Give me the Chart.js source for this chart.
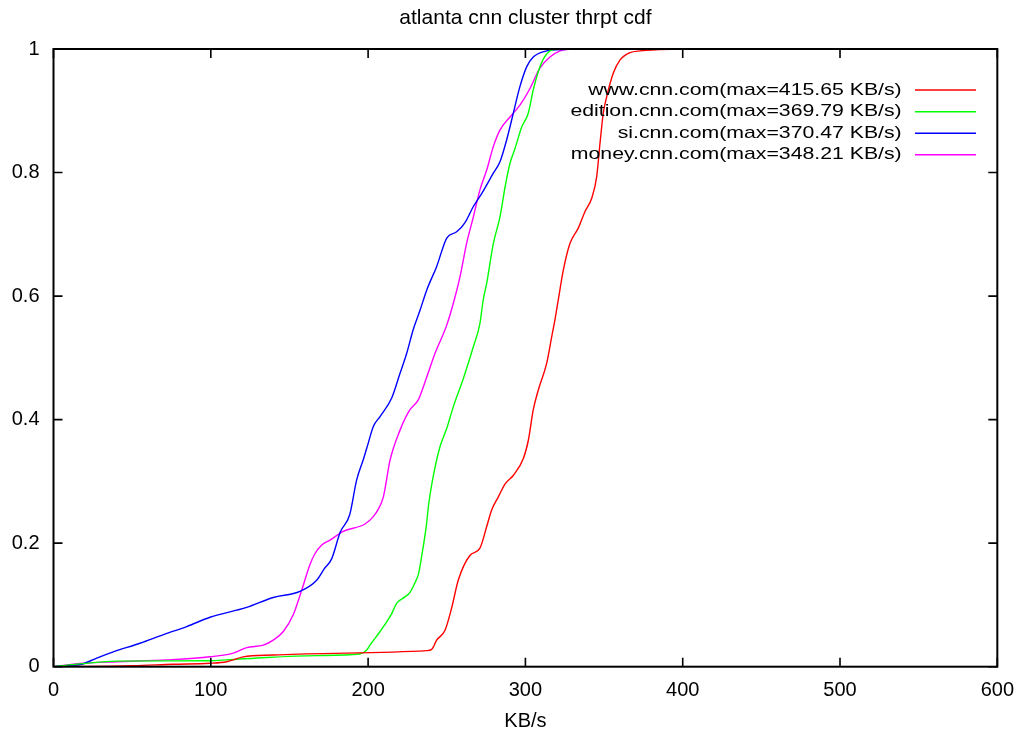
<!DOCTYPE html>
<html>
<head>
<meta charset="utf-8">
<script src="https://cdn.jsdelivr.net/npm/chart.js@4"></script>
<style>
  body { margin: 0; background: #fff; }
  #wrap { width: 1026px; height: 736px; }
</style>
</head>
<body>
<div id="wrap"><canvas id="mycanvas" width="1026" height="736"></canvas></div>
<script>
var chartTitle = 'atlanta cnn cluster thrpt cdf';
var xTitle = 'KB/s';
var xTicks = [0, 100, 200, 300, 400, 500, 600];
var xTickLabels = ['0', '100', '200', '300', '400', '500', '600'];
var yTicks = [0, 0.2, 0.4, 0.6, 0.8, 1];
var yTickLabels = ['0', '0.2', '0.4', '0.6', '0.8', '1'];

var seriesNames = [
	'www.cnn.com(max=415.65 KB/s)',
	'edition.cnn.com(max=369.79 KB/s)',
	'si.cnn.com(max=370.47 KB/s)',
	'money.cnn.com(max=348.21 KB/s)'
];
var seriesColors = ['#ff0000', '#00ff00', '#0000ff', '#ff00ff'];

// www.cnn.com
var wwwX = [0, 50.7, 76.2, 99.5, 110.1, 120.5, 139.7, 177.9, 237.2, 240.4, 243.6, 248.9, 253.1, 257.3, 264.7, 271.1, 275.4, 278.6, 282.8, 287.1, 292.4, 298.7, 301.9, 305, 308.2, 313.5, 316.7, 318.8, 320.9, 324.1, 328.3, 333.6, 337.9, 342.1, 345.3, 347.4, 349.5, 351.7, 355.9, 360.1, 366.5, 372.9, 385, 400, 415.65];
var wwwY = [0, 0.0016, 0.004, 0.0055, 0.008, 0.016, 0.019, 0.0216, 0.026, 0.028, 0.043, 0.059, 0.095, 0.140, 0.180, 0.192, 0.227, 0.254, 0.275, 0.296, 0.310, 0.337, 0.367, 0.416, 0.448, 0.491, 0.534, 0.562, 0.594, 0.642, 0.685, 0.710, 0.737, 0.758, 0.793, 0.847, 0.896, 0.923, 0.961, 0.982, 0.994, 0.997, 0.999, 1, 1];

// edition.cnn.com
var editionX = [0, 19, 40, 99.5, 110, 135.5, 167.3, 194.9, 199.1, 201.2, 207.6, 215, 218.2, 223.4, 226.5, 229.8, 232, 234, 237.2, 238.3, 241.4, 245.7, 250, 254.2, 260.6, 266.9, 271.1, 273.2, 275.4, 279.6, 283.9, 287.1, 290.2, 293.4, 297.7, 301.8, 305, 309.2, 313.5, 317.7, 325, 369.79];
var editionY = [0, 0.005, 0.009, 0.0097, 0.011, 0.015, 0.018, 0.0206, 0.027, 0.035, 0.057, 0.086, 0.103, 0.113, 0.12, 0.136, 0.15, 0.178, 0.232, 0.259, 0.308, 0.356, 0.386, 0.421, 0.467, 0.518, 0.556, 0.594, 0.621, 0.685, 0.729, 0.777, 0.815, 0.839, 0.874, 0.896, 0.934, 0.971, 0.992, 0.999, 1, 1];

// si.cnn.com
var siX = [0, 10, 18, 27.5, 38, 55, 70, 84.7, 99.5, 122.8, 139.7, 156.7, 167.3, 172, 176.9, 182.3, 188.3, 192.7, 196.9, 200.1, 203.3, 207.6, 215, 220.3, 224.5, 228.7, 233, 237.3, 243.6, 250, 256.3, 261.6, 266.9, 272.2, 279.6, 283.9, 288.1, 292.3, 296.5, 300.8, 305, 313.5, 322, 330, 370.47];
var siY = [0, 0.002, 0.004, 0.014, 0.024, 0.038, 0.052, 0.065, 0.080, 0.096, 0.112, 0.122, 0.140, 0.158, 0.175, 0.218, 0.246, 0.302, 0.335, 0.362, 0.389, 0.405, 0.435, 0.475, 0.507, 0.546, 0.577, 0.610, 0.648, 0.694, 0.704, 0.719, 0.745, 0.766, 0.799, 0.818, 0.853, 0.896, 0.939, 0.971, 0.987, 0.997, 0.999, 1, 1];

// money.cnn.com
var moneyX = [0, 19, 40, 72, 99.5, 114.3, 122.8, 133.4, 139.7, 146.1, 152.4, 157.8, 163, 166, 170.5, 175.8, 184.2, 198, 203.3, 206.5, 209.7, 214, 220.3, 226.6, 231.9, 236.2, 242.5, 250, 255, 258.4, 262.6, 266.9, 271.1, 275.4, 279.6, 283.9, 290.2, 296.5, 302.9, 309.2, 315.6, 322, 330.5, 348.21];
var moneyY = [0, 0.0055, 0.008, 0.011, 0.016, 0.022, 0.031, 0.035, 0.043, 0.057, 0.084, 0.124, 0.165, 0.182, 0.197, 0.205, 0.219, 0.231, 0.243, 0.255, 0.275, 0.335, 0.383, 0.416, 0.432, 0.461, 0.507, 0.553, 0.596, 0.631, 0.685, 0.728, 0.772, 0.804, 0.842, 0.869, 0.89, 0.909, 0.936, 0.969, 0.987, 0.997, 1, 1];

function toPoints(xs, ys) {
	var pts = [];
	for (var i in xs) {
		pts.push({x: xs[i], y: ys[i]});
	}
	return pts;
}

var allX = [wwwX, editionX, siX, moneyX];
var allY = [wwwY, editionY, siY, moneyY];
var datasets = [];
for (var i in seriesNames) {
	datasets.push({
		label: seriesNames[i],
		data: toPoints(allX[i], allY[i]),
		borderColor: seriesColors[i],
		backgroundColor: seriesColors[i],
		borderWidth: 1.4,
		pointRadius: 0,
		cubicInterpolationMode: 'monotone',
		fill: false
	});
}

var fontFamily = '"Liberation Sans", Arial, Helvetica, sans-serif';

// frame, inward tick marks, title and gnuplot-style key
var gnuplotLook = {
	id: 'gnuplotLook',
	afterDatasetsDraw: function(chart) {
		var ctx = chart.ctx;
		var a = chart.chartArea;
		var x = chart.scales.x;
		var y = chart.scales.y;
		ctx.save();
		ctx.strokeStyle = '#000';
		ctx.lineWidth = 1.6;
		ctx.beginPath();
		xTicks.forEach(function(v) {
			var px = x.getPixelForValue(v);
			ctx.moveTo(px, a.bottom); ctx.lineTo(px, a.bottom - 9);
			ctx.moveTo(px, a.top); ctx.lineTo(px, a.top + 9);
		});
		yTicks.forEach(function(v) {
			var py = y.getPixelForValue(v);
			ctx.moveTo(a.left, py); ctx.lineTo(a.left + 9, py);
			ctx.moveTo(a.right, py); ctx.lineTo(a.right - 9, py);
		});
		ctx.stroke();
		ctx.lineWidth = 2;
		ctx.strokeRect(a.left, a.top, a.right - a.left, a.bottom - a.top);

		// title
		ctx.fillStyle = '#000';
		ctx.font = '21px ' + fontFamily;
		ctx.textAlign = 'center';
		ctx.textBaseline = 'alphabetic';
		ctx.fillText(chartTitle, (a.left + a.right) / 2, 24);

		// key
		var rowY = [90, 111.7, 133.3, 154.7];
		chart.data.datasets.forEach(function(ds, i) {
			ctx.save();
			ctx.translate(901.7, rowY[i]);
			ctx.scale(1.25, 1);
			ctx.font = '17px ' + fontFamily;
			ctx.textAlign = 'right';
			ctx.textBaseline = 'middle';
			ctx.fillStyle = '#000';
			ctx.fillText(ds.label, 0, 0);
			ctx.restore();
			ctx.strokeStyle = ds.borderColor;
			ctx.lineWidth = 1.4;
			ctx.beginPath();
			ctx.moveTo(915, rowY[i]);
			ctx.lineTo(976, rowY[i]);
			ctx.stroke();
		});
		ctx.restore();
	}
};

var ctx = document.getElementById('mycanvas');
var cdfChart = new Chart(ctx, {
	type: 'line',
	data: { datasets: datasets },
	plugins: [gnuplotLook],
	options: {
		responsive: false,
		animation: false,
		events: [],
		layout: { padding: { top: 49, right: 28.5, bottom: 0, left: 0 } },
		plugins: {
			legend: { display: false },
			title: { display: false },
			tooltip: { enabled: false }
		},
		scales: {
			x: {
				type: 'linear',
				min: 0,
				max: 600,
				afterBuildTicks: function(s) { s.ticks = xTicks.map(function(v) { return {value: v}; }); },
				afterFit: function(s) { s.height = 69.3; },
				grid: { display: false, drawTicks: false },
				border: { display: false },
				ticks: {
					color: '#000',
					padding: 12,
					maxRotation: 0,
					font: { family: fontFamily, size: 20 },
					callback: function(v, i) { return xTickLabels[i]; }
				},
				title: {
					display: true,
					text: xTitle,
					color: '#000',
					font: { family: fontFamily, size: 20 },
					padding: { top: 0, bottom: 3 }
				}
			},
			y: {
				type: 'linear',
				min: 0,
				max: 1,
				afterBuildTicks: function(s) { s.ticks = yTicks.map(function(v) { return {value: v}; }); },
				afterFit: function(s) { s.width = 53.5; },
				grid: { display: false, drawTicks: false },
				border: { display: false },
				ticks: {
					color: '#000',
					padding: 14,
					font: { family: fontFamily, size: 20 },
					callback: function(v, i) { return yTickLabels[i]; }
				}
			}
		}
	}
});
</script>
</body>
</html>
